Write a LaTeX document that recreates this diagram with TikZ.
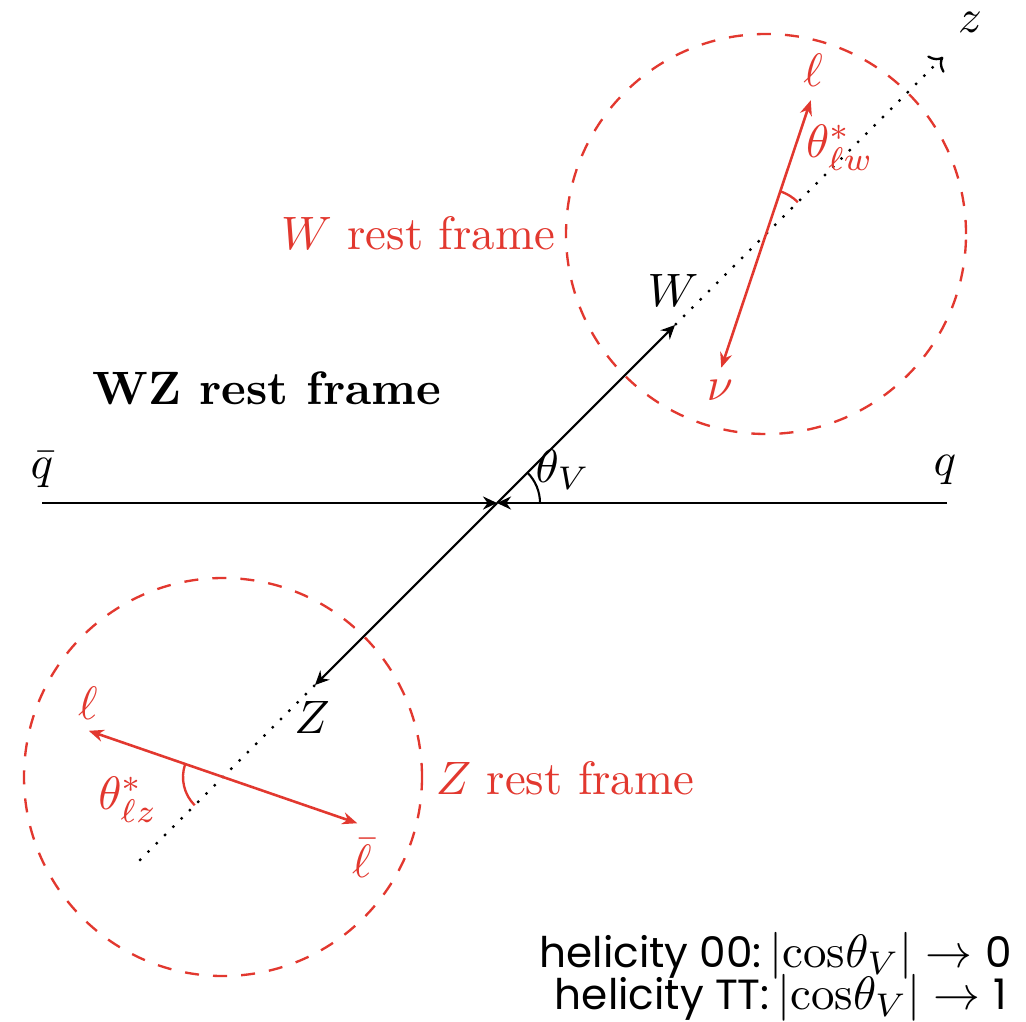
\documentclass[tikz,border=0pt]{standalone}
\usepackage{amsmath, amssymb}
\usepackage{fontspec}
\newfontfamily\helfont{Poppins}
\usepackage{tikz}
\usetikzlibrary{arrows.meta, positioning, calc}
\usepackage{xcolor}
\definecolor{framered}{HTML}{E2382F}
\newcommand{\heltext}[1]{{\helfont\fontsize{9}{11}\selectfont #1}}

\begin{document}
\begin{tikzpicture}[x=0.2134pt, y=0.2134pt,
    beam/.style={draw=black, line width=0.45pt, -{Stealth[length=3pt, width=2.8pt, inset=1pt]}},
    zaxis/.style={draw=black, line width=0.5pt, dotted},
    restframe/.style={draw=framered, line width=0.5pt, dashed},
    decay/.style={draw=framered, line width=0.55pt, {Stealth[length=3.2pt, width=2.6pt]}-{Stealth[length=3.2pt, width=2.6pt]}},
    redlabel/.style={text=framered, inner sep=1pt}]
    \useasboundingbox (0,-1021) rectangle (1026,0);

    % WZ rest frame
    \coordinate (O) at (497,-503);
    \coordinate (qbarend) at (42,-503);
    \coordinate (qend) at (947,-503);
    \coordinate (Wtip) at (675,-325);
    \coordinate (Ztip) at (315,-685);
    \coordinate (zend) at (943,-57);
    \coordinate (zlow) at (137,-863);
    \coordinate (Wcentre) at (766,-234);
    \coordinate (Zcentre) at (223,-777);

    \draw[beam] (qbarend) -- (O);
    \draw[beam] (qend) -- (O);
    \draw[beam] (O) -- (Wtip);
    \draw[beam] (O) -- (Ztip);
    \draw[zaxis, -{To[length=2.4pt]}] (Wtip) -- (zend);
    \draw[zaxis] (Ztip) -- (zlow);
    \draw[line width=0.45pt] ($(O)+(43,0)$) arc[start angle=0, end angle=45, radius=43];

    \node (qbar) at (42,-470) {$\bar{q}$};
    \node (q) at (945,-470) {$q$};
    \node (thetaV) at (563,-470) {$\theta_V$};
    \node (W) at (673,-290) {$W$};
    \node (Z) at (312,-717) {$Z$};
    \node (z) at (970,-22) {$z$};
    \node (wzframe) at (267,-388) {\textbf{WZ rest frame}};

    % W rest frame
    \draw[restframe] (Wcentre) circle (200);
    \coordinate (lW) at ($(Wcentre)+(71.5:141)$);
    \coordinate (nuW) at ($(Wcentre)+(251.5:141)$);
    \draw[decay] (nuW) -- (lW);
    \draw[draw=framered, line width=0.5pt] ($(Wcentre)+(45:45)$) arc[start angle=45, end angle=71.5, radius=45];
    \node[redlabel] (lWlabel) at (813,-70) {$\ell$};
    \node[redlabel] (nulabel) at (720,-390) {$\nu$};
    \node[redlabel] (thetaW) at (840,-148) {$\theta^{*}_{\ell w}$};
    \node[redlabel] (wframe) at (418,-233) {$W$ rest frame};

    % Z rest frame
    \draw[restframe] (Zcentre) circle (199);
    \coordinate (lZ) at ($(Zcentre)+(161:142)$);
    \coordinate (lbarZ) at ($(Zcentre)+(-19:142)$);
    \draw[decay] (lZ) -- (lbarZ);
    \draw[draw=framered, line width=0.5pt] ($(Zcentre)+(161:40)$) arc[start angle=161, end angle=225, radius=40];
    \node[redlabel] (lZlabel) at (88,-703) {$\ell$};
    \node[redlabel] (lbarlabel) at (362,-858) {$\bar{\ell}$};
    \node[redlabel] (thetaZ) at (128,-800) {$\theta^{*}_{\ell z}$};
    \node[redlabel] (zframe) at (565,-778) {$Z$ rest frame};

    % helicity limits
    \node[inner sep=0pt] (hel00) at (776,-956) {\heltext{helicity 00:}\,$|\mathrm{cos}\theta_V|\rightarrow$\;\heltext{0}};
    \node[inner sep=0pt] (helTT) at (781,-998) {\heltext{helicity TT:}\,$|\mathrm{cos}\theta_V|\rightarrow$\;\heltext{1}};
\end{tikzpicture}
\end{document}
